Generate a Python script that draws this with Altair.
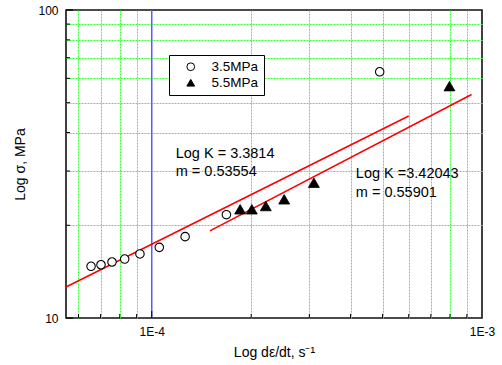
import altair as alt
import pandas as pd
import math

# ---------------- data ----------------
x_domain = [5.5e-5, 1e-3]
y_domain = [10, 100]

series_names = ["3.5MPa", "5.5MPa"]

rate_35 = [6.55e-5, 7.02e-5, 7.58e-5, 8.28e-5, 9.21e-5, 1.054e-4, 1.262e-4, 1.683e-4, 4.90e-4]
stress_35 = [14.72, 14.89, 15.2, 15.54, 16.14, 16.96, 18.37, 21.65, 63.0]

rate_55 = [1.852e-4, 2.009e-4, 2.215e-4, 2.518e-4, 3.097e-4, 7.97e-4]
stress_55 = [22.54, 22.54, 23.1, 24.29, 27.5, 56.6]

fit_35_x = [5.5e-5, 6.0e-4]
fit_35_y = [12.60, 45.29]
fit_55_x = [1.5e-4, 9.3e-4]
fit_55_y = [19.18, 53.18]

x_minor = [6e-5, 7e-5, 8e-5, 9e-5, 2e-4, 3e-4, 4e-4, 5e-4, 6e-4, 7e-4, 8e-4, 9e-4]
x_major = [1e-4, 1e-3]
x_major_labels = ["1E-4", "1E-3"]
y_minor = [20, 30, 40, 50, 60, 70, 80, 90]
y_major = [10, 100]

ref_line_x = [1e-4]

notes_text = ["Log K = 3.3814", "m = 0.53554", "Log K =3.42043", "m = 0.55901"]
notes_x = [1.182e-4, 1.182e-4, 4.15e-4, 4.15e-4]
notes_y = [33.15, 28.9, 28.55, 24.77]

# ---------------- tables ----------------
df35 = pd.DataFrame({"x": rate_35, "y": stress_35, "series": series_names[0]})
df55 = pd.DataFrame({"x": rate_55, "y": stress_55, "series": series_names[1]})
fits = pd.concat([
    pd.DataFrame({"x": fit_35_x, "y": fit_35_y, "fit": "a"}),
    pd.DataFrame({"x": fit_55_x, "y": fit_55_y, "fit": "b"}),
])
x_minor_df = pd.DataFrame({"x": x_minor})
x_major_df = pd.DataFrame({"x": x_major[:1]})
y_minor_df = pd.DataFrame({"y": y_minor})
y_major_df = pd.DataFrame({"y": y_major})
ref_df = pd.DataFrame({"x": ref_line_x})
notes_df = pd.DataFrame({"x": notes_x, "y": notes_y, "t": notes_text})

FONT = "Liberation Sans"
GRID = "#33ff33"

x_label_expr = " : ".join(
    f"abs(log(datum.value)/LN10 - ({math.log10(v):.4f})) < 0.01 ? '{lab}'"
    for v, lab in zip(x_major, x_major_labels)
) + " : ''"
y_label_expr = " : ".join(
    f"datum.value == {v} ? '{v}'" for v in y_major
) + " : ''"

xaxis = alt.Axis(
    values=x_minor + x_major,
    grid=True, gridColor=GRID, gridDash=[2, 1], gridWidth=1,
    gridOpacity={"condition": {"test": "datum.value > 0.00099 || abs(datum.value - 0.0001) < 1e-9", "value": 0}, "value": 1},
    ticks=False, domain=False,
    labelExpr=x_label_expr, labelFontSize=12, labelPadding=8,
    labelOverlap=False, labelFlush=False, labelColor="black", labelFont=FONT,
    title="Log dε/dt, s⁻¹", titleFontSize=14, titleFontWeight="normal",
    titlePadding=8, titleColor="black", titleFont=FONT,
)
yaxis = alt.Axis(
    values=y_minor + y_major,
    grid=True, gridColor=GRID, gridDash=[2, 1], gridWidth=1,
    gridOpacity={"condition": {"test": "datum.value <= 10 || datum.value >= 100", "value": 0}, "value": 1},
    ticks=False, domain=False,
    labelExpr=y_label_expr, labelFontSize=12, labelPadding=8,
    labelOverlap=False, labelFlush=False, labelColor="black", labelFont=FONT,
    title="Log σ, MPa", titleFontSize=14, titleFontWeight="normal",
    titlePadding=10, titleColor="black", titleFont=FONT,
)

xs = alt.Scale(type="log", domain=x_domain, nice=False)
ys = alt.Scale(type="log", domain=y_domain, nice=False)


def X():
    return alt.X("x:Q", scale=xs, axis=xaxis)


def Y():
    return alt.Y("y:Q", scale=ys, axis=yaxis)


leg = alt.Legend(
    title=None, orient="none", legendX=103, legendY=45,
    padding=5, symbolOffset=10, labelOffset=14, labelFontSize=13.5,
    labelFont=FONT, labelColor="black", rowPadding=1,
    fillColor="white", strokeColor="black", symbolSize=60,
    symbolStrokeWidth=1,
)
shape_enc = alt.Shape("series:N", scale=alt.Scale(domain=series_names, range=["circle", "triangle-up"]), legend=leg)
fill_enc = alt.Fill("series:N", scale=alt.Scale(domain=series_names, range=["white", "black"]), legend=leg)
stroke_enc = alt.Stroke("series:N", scale=alt.Scale(domain=series_names, range=["black", "black"]), legend=leg)

blue = alt.Chart(ref_df).mark_rule(color="#5a5aff", strokeWidth=1.5).encode(x=X())

lines = alt.Chart(fits).mark_line(color="#ff0000", strokeWidth=1.6).encode(
    x=X(), y=Y(), detail="fit:N"
)

xt_minor = alt.Chart(x_minor_df).mark_rule(color="black", strokeWidth=1).encode(
    x=X(), y=alt.value(308), y2=alt.value(304))
xt_major = alt.Chart(x_major_df).mark_rule(color="black", strokeWidth=1).encode(
    x=X(), y=alt.value(308), y2=alt.value(301))
yt_minor = alt.Chart(y_minor_df).mark_rule(color="black", strokeWidth=1).encode(
    y=Y(), x=alt.value(0), x2=alt.value(4))
yt_major = alt.Chart(y_major_df).mark_rule(color="black", strokeWidth=1.2).encode(
    y=Y(), x=alt.value(0), x2=alt.value(7))

circles = alt.Chart(df35).mark_point(filled=True, size=72, strokeWidth=1.1, opacity=1).encode(
    x=X(), y=Y(), shape=shape_enc, fill=fill_enc, stroke=stroke_enc)
tris = alt.Chart(df55).mark_point(filled=True, size=120, strokeWidth=0.8, opacity=1).encode(
    x=X(), y=Y(), shape=shape_enc, fill=fill_enc, stroke=stroke_enc)

notes = alt.Chart(notes_df).mark_text(
    align="left", baseline="alphabetic", fontSize=14.5, font=FONT, color="black"
).encode(x=X(), y=Y(), text="t:N")

chart = alt.layer(
    blue, lines, xt_minor, xt_major, yt_minor, yt_major, circles, tris, notes
).properties(
    width=416, height=308,
    padding={"left": 66, "top": 10, "right": 20, "bottom": 47},
    autosize=alt.AutoSizeParams(type="none"),
).configure(font=FONT, background="white").configure_view(stroke="#111111", strokeWidth=1.6)

chart.save("out.html", embed_options={"renderer": "svg", "actions": False})
